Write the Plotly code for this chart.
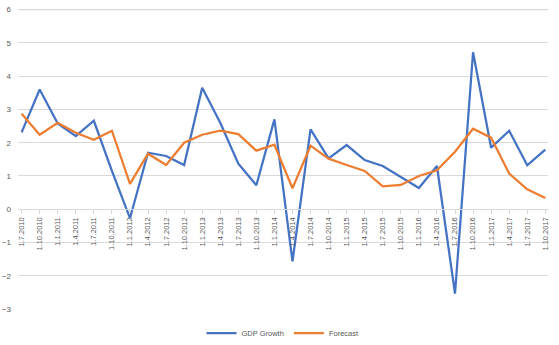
import plotly.graph_objects as go

quarters = [
    "1.7.2010", "1.10.2010", "1.1.2011", "1.4.2011", "1.7.2011", "1.10.2011",
    "1.1.2012", "1.4.2012", "1.7.2012", "1.10.2012", "1.1.2013", "1.4.2013",
    "1.7.2013", "1.10.2013", "1.1.2014", "1.4.2014", "1.7.2014", "1.10.2014",
    "1.1.2015", "1.4.2015", "1.7.2015", "1.10.2015", "1.1.2016", "1.4.2016",
    "1.7.2016", "1.10.2016", "1.1.2017", "1.4.2017", "1.7.2017", "1.10.2017",
]

gdp_growth = [
    2.31, 3.60, 2.58, 2.20, 2.66, 1.15, -0.27, 1.70, 1.60, 1.33,
    3.65, 2.60, 1.37, 0.72, 2.70, -1.57, 2.40, 1.53, 1.93, 1.48,
    1.30, 0.97, 0.64, 1.30, -2.54, 4.72, 1.85, 2.36, 1.32, 1.79,
]

forecast = [
    2.87, 2.24, 2.60, 2.30, 2.09, 2.36, 0.76, 1.67, 1.33, 2.00,
    2.24, 2.36, 2.26, 1.76, 1.94, 0.63, 1.91, 1.52, 1.33, 1.15,
    0.69, 0.73, 1.00, 1.17, 1.73, 2.42, 2.15, 1.07, 0.60, 0.34,
]

y_min, y_max = -3, 6
y_top = y_max + 0.05  # small headroom so the top gridline isn't clipped
grey = "#595959"
grid = "#d9d9d9"

fig = go.Figure()
fig.add_trace(go.Scatter(x=quarters, y=gdp_growth, mode="lines", name="GDP Growth",
                         line=dict(color="#4472C4", width=2.25)))
fig.add_trace(go.Scatter(x=quarters, y=forecast, mode="lines", name="Forecast",
                         line=dict(color="#ED7D31", width=2.25)))

# category axis sits on the zero line, like Excel does
fig.update_xaxes(
    type="category", range=[-0.2, 29.15],
    anchor="free", position=(0 - y_min) / (y_top - y_min),
    showgrid=False, showline=True, linecolor=grid, linewidth=1,
    ticks="outside", ticklen=4, tickcolor=grid,
    tickangle=-90, tickfont=dict(family="Liberation Sans", size=7.5, color=grey),
    automargin=False,
)
fig.update_yaxes(
    range=[y_min, y_top], dtick=1, showgrid=True, gridcolor=grid, gridwidth=1,
    zeroline=False, showline=False, ticks="", ticklabelstandoff=6,
    tickfont=dict(family="Liberation Sans", size=8, color=grey),
    automargin=False,
)
fig.add_hline(y=y_max, line=dict(color=grid, width=1), layer="below")

fig.update_layout(
    width=559, height=345,
    margin=dict(l=18, r=11, t=8, b=36, autoexpand=False),
    paper_bgcolor="white", plot_bgcolor="white",
    showlegend=True,
    legend=dict(orientation="h", x=0.5, xanchor="center",
                yref="container", y=1 - 333 / 345, yanchor="middle",
                font=dict(family="Liberation Sans", size=7.5, color=grey),
                itemwidth=30, tracegroupgap=0),
)

# drop the default page margin so the figure starts at the top-left corner
fig.write_html("out.html", config={"displayModeBar": False},
               post_script="document.body.style.margin='0';")
